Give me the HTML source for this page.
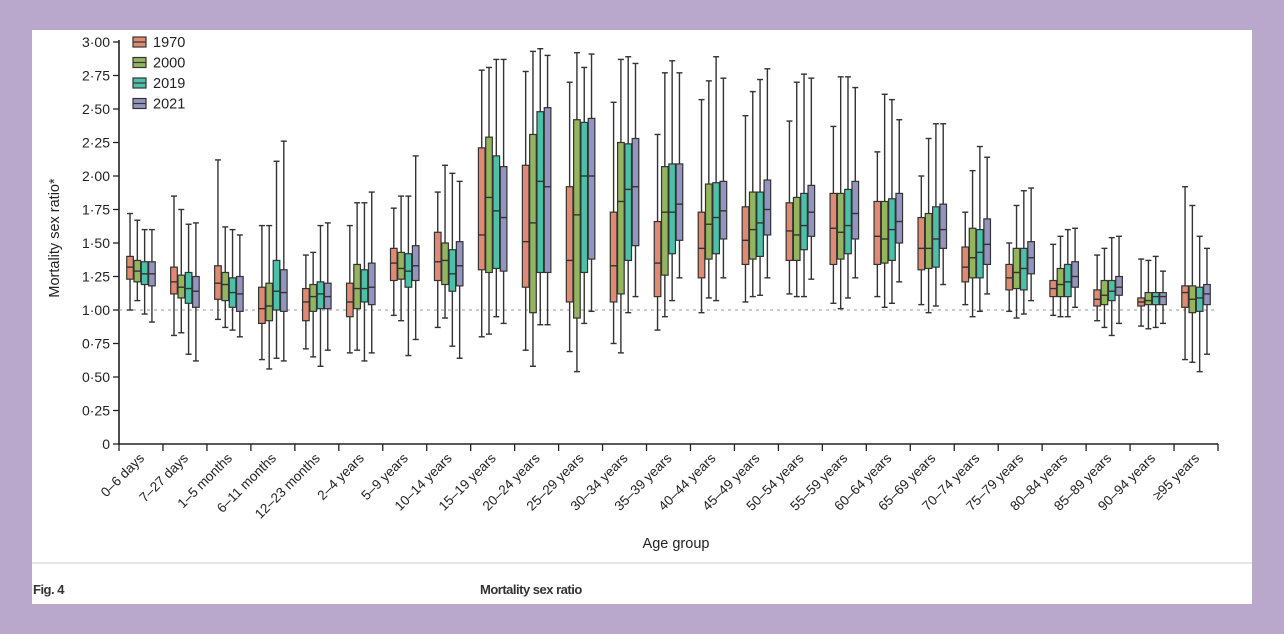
<!DOCTYPE html>
<html><head><meta charset="utf-8">
<style>
html,body{margin:0;padding:0;background:#b9a7cc;}
body{width:1284px;height:634px;position:relative;overflow:hidden;font-family:"Liberation Sans",sans-serif;}
#panel{position:absolute;left:32px;top:30px;width:1220px;height:574px;background:#fff;}
#chart{position:absolute;left:0;top:0;}
.foot{position:absolute;font-size:13px;color:#333;font-weight:bold;letter-spacing:-0.5px;}
</style></head>
<body>
<div id="panel"></div>
<svg id="chart" width="1284" height="634"></svg>
<div class="foot" style="left:33px;top:582px;">Fig. 4</div>
<div class="foot" style="left:480px;top:582px;">Mortality sex ratio</div>
<script>
const categories=["0–6 days","7–27 days","1–5 months","6–11 months","12–23 months","2–4 years","5–9 years","10–14 years","15–19 years","20–24 years","25–29 years","30–34 years","35–39 years","40–44 years","45–49 years","50–54 years","55–59 years","60–64 years","65–69 years","70–74 years","75–79 years","80–84 years","85–89 years","90–94 years","≥95 years"];
const seriesNames=["1970","2000","2019","2021"];
const yTicks=[0,0.25,0.5,0.75,1,1.25,1.5,1.75,2,2.25,2.5,2.75,3];
const yTickLabels=["0","0·25","0·50","0·75","1·00","1·25","1·50","1·75","2·00","2·25","2·50","2·75","3·00"];
// [low, q1, median, q3, high] per category
const s1970=[[1.00,1.23,1.32,1.40,1.72],[0.81,1.12,1.21,1.32,1.85],[0.93,1.08,1.20,1.33,2.12],[0.63,0.90,1.01,1.17,1.63],[0.71,0.92,1.06,1.16,1.41],[0.68,0.95,1.06,1.20,1.63],[0.96,1.22,1.35,1.46,1.76],[0.87,1.22,1.36,1.58,1.88],[0.80,1.30,1.56,2.21,2.79],[0.70,1.17,1.51,2.08,2.78],[0.69,1.06,1.37,1.92,2.70],[0.75,1.06,1.33,1.73,2.55],[0.85,1.10,1.35,1.66,2.31],[0.98,1.24,1.46,1.73,2.57],[1.06,1.34,1.52,1.77,2.45],[1.12,1.37,1.59,1.80,2.41],[1.05,1.34,1.61,1.87,2.37],[1.10,1.34,1.55,1.81,2.18],[1.04,1.30,1.46,1.69,2.00],[1.04,1.21,1.32,1.47,1.73],[0.99,1.15,1.24,1.34,1.50],[0.96,1.10,1.16,1.22,1.49],[0.92,1.03,1.08,1.15,1.41],[0.88,1.03,1.06,1.09,1.38],[0.63,1.02,1.13,1.18,1.92]];
const s2000=[[1.07,1.21,1.29,1.37,1.67],[0.83,1.09,1.17,1.26,1.75],[0.87,1.07,1.19,1.28,1.62],[0.56,0.92,1.03,1.20,1.63],[0.65,0.99,1.10,1.19,1.43],[0.70,1.01,1.16,1.34,1.80],[0.92,1.23,1.31,1.43,1.85],[0.94,1.19,1.37,1.50,2.08],[0.82,1.28,1.84,2.29,2.81],[0.58,0.98,1.65,2.31,2.93],[0.54,0.94,1.71,2.42,2.92],[0.68,1.12,1.81,2.25,2.87],[0.95,1.26,1.73,2.07,2.77],[1.09,1.38,1.64,1.94,2.71],[1.10,1.38,1.60,1.88,2.63],[1.10,1.37,1.56,1.84,2.70],[1.01,1.38,1.58,1.87,2.74],[1.02,1.35,1.53,1.81,2.61],[0.98,1.31,1.46,1.72,2.28],[0.95,1.24,1.39,1.61,2.04],[0.94,1.16,1.28,1.46,1.78],[0.95,1.10,1.19,1.31,1.55],[0.87,1.04,1.11,1.22,1.46],[0.86,1.04,1.07,1.13,1.37],[0.61,0.98,1.08,1.18,1.78]];
const s2019=[[0.97,1.19,1.27,1.36,1.60],[0.67,1.05,1.16,1.28,1.64],[0.85,1.02,1.13,1.24,1.60],[0.64,1.00,1.14,1.37,2.11],[0.58,1.01,1.12,1.21,1.63],[0.62,1.06,1.16,1.30,1.80],[0.66,1.17,1.29,1.42,1.85],[0.73,1.14,1.27,1.45,2.02],[0.95,1.31,1.74,2.15,2.87],[0.89,1.28,1.96,2.48,2.95],[0.90,1.28,2.00,2.40,2.81],[0.98,1.37,1.90,2.24,2.89],[1.07,1.42,1.73,2.09,2.86],[1.07,1.42,1.69,1.95,2.89],[1.11,1.40,1.65,1.88,2.72],[1.10,1.45,1.63,1.87,2.76],[1.09,1.42,1.63,1.90,2.74],[1.05,1.37,1.60,1.83,2.57],[1.03,1.32,1.53,1.77,2.39],[0.99,1.24,1.43,1.60,2.22],[0.97,1.15,1.31,1.46,1.89],[0.95,1.10,1.21,1.34,1.60],[0.81,1.07,1.14,1.22,1.54],[0.87,1.04,1.10,1.13,1.40],[0.54,0.99,1.09,1.17,1.55]];
const s2021=[[0.91,1.18,1.27,1.36,1.60],[0.62,1.02,1.14,1.25,1.65],[0.80,0.99,1.12,1.25,1.56],[0.62,0.99,1.13,1.30,2.26],[0.70,1.01,1.10,1.20,1.65],[0.68,1.04,1.17,1.35,1.88],[0.78,1.22,1.33,1.48,2.15],[0.64,1.18,1.33,1.51,1.96],[0.90,1.29,1.69,2.07,2.87],[0.89,1.28,1.92,2.51,2.90],[0.99,1.38,2.00,2.43,2.91],[1.10,1.48,1.92,2.28,2.84],[1.24,1.52,1.79,2.09,2.77],[1.24,1.53,1.74,1.96,2.73],[1.24,1.56,1.75,1.97,2.80],[1.23,1.55,1.73,1.93,2.73],[1.24,1.53,1.72,1.96,2.66],[1.21,1.50,1.66,1.87,2.42],[1.19,1.46,1.60,1.79,2.39],[1.12,1.34,1.49,1.68,2.14],[1.07,1.27,1.39,1.51,1.91],[1.02,1.17,1.25,1.36,1.61],[0.90,1.11,1.17,1.25,1.55],[0.90,1.04,1.10,1.13,1.29],[0.67,1.04,1.12,1.19,1.46]];
const allSeries=[s1970,s2000,s2019,s2021];
const colors=["#e08a74","#93b55e","#4cc0a8","#9495bd"];

const NS="http://www.w3.org/2000/svg";
const svg=document.getElementById('chart');
const X0=119,X1=1218,Y0=444,Y3=42;
const bandW=(X1-X0)/categories.length;
function y(v){return Y0-(v/3)*(Y0-Y3);}
function xBand(i){return X0+i*bandW;}
function mk(tag,attrs,parent){const e=document.createElementNS(NS,tag);for(const k in attrs)e.setAttribute(k,attrs[k]);(parent||svg).appendChild(e);return e;}

let ax=mk('line',{x1:X0,y1:Y3-2,x2:X0,y2:Y0+1,stroke:'#222','stroke-width':1.6});


let xax=mk('line',{x1:X0,y1:Y0,x2:X1,y2:Y0,stroke:'#222','stroke-width':1.6});


yTicks.forEach((t,i)=>{
  const tk=mk('line',{x1:X0-6,y1:y(t),x2:X0,y2:y(t),stroke:'#222','stroke-width':1.3});
  
  
  const tx=mk('text',{x:X0-9,y:y(t)+5,'text-anchor':'end','font-size':14,fill:'#222'});
  tx.textContent=yTickLabels[i];
  
  
});
let ref=mk('line',{x1:X0,y1:y(1),x2:X1,y2:y(1),stroke:'#999','stroke-width':1,'stroke-dasharray':'3,4'});


for(let i=0;i<=categories.length;i++){
  const tk=mk('line',{x1:xBand(i),y1:Y0,x2:xBand(i),y2:Y0+7,stroke:'#222','stroke-width':1.3});
  
  
}
categories.forEach((c,i)=>{
  const cx=xBand(i)+bandW/2;
  const tx=mk('text',{x:0,y:0,'text-anchor':'end','font-size':13.5,fill:'#222',transform:`translate(${cx+4},${Y0+15}) rotate(-45)`});
  tx.textContent=c;
  
  
});
const boxW=6.6,pitch=7.3;
allSeries.forEach((ser,s)=>{
  ser.forEach((d,i)=>{
    const bx=xBand(i)+(bandW-4*pitch)/2+s*pitch+0.35;
    const cx=bx+boxW/2;
    const g=mk('g',{});
    
    
    mk('line',{x1:cx,y1:y(d[0]),x2:cx,y2:y(d[4]),stroke:'#333','stroke-width':1.4},g);
    mk('line',{x1:cx-3,y1:y(d[0]),x2:cx+3,y2:y(d[0]),stroke:'#333','stroke-width':1.4},g);
    mk('line',{x1:cx-3,y1:y(d[4]),x2:cx+3,y2:y(d[4]),stroke:'#333','stroke-width':1.4},g);
    mk('rect',{x:bx,y:y(d[3]),width:boxW,height:y(d[1])-y(d[3]),fill:colors[s],stroke:'#333','stroke-width':1.2},g);
    mk('line',{x1:bx,y1:y(d[2]),x2:bx+boxW,y2:y(d[2]),stroke:'#333','stroke-width':1.4},g);
  });
});
seriesNames.forEach((n,s)=>{
  const ly=42+s*20.5;
  const g=mk('g',{});
  
  
  mk('rect',{x:133,y:ly-5,width:13,height:10,fill:colors[s],stroke:'#333','stroke-width':1.2},g);
  mk('line',{x1:133,y1:ly,x2:146,y2:ly,stroke:'#333','stroke-width':1.2},g);
  const t=mk('text',{x:153,y:ly+5,'font-size':14.5,fill:'#222'},g);
  t.textContent=n;
});
let yt=mk('text',{x:0,y:0,'text-anchor':'middle','font-size':14.5,fill:'#222',transform:'translate(59,238) rotate(-90)'});
yt.textContent='Mortality sex ratio*';


let xt=mk('text',{x:676,y:548,'text-anchor':'middle','font-size':14.5,fill:'#222'});
xt.textContent='Age group';


let rule=mk('line',{x1:32,y1:563,x2:1252,y2:563,stroke:'#ccc','stroke-width':1});


</script>
</body></html>
